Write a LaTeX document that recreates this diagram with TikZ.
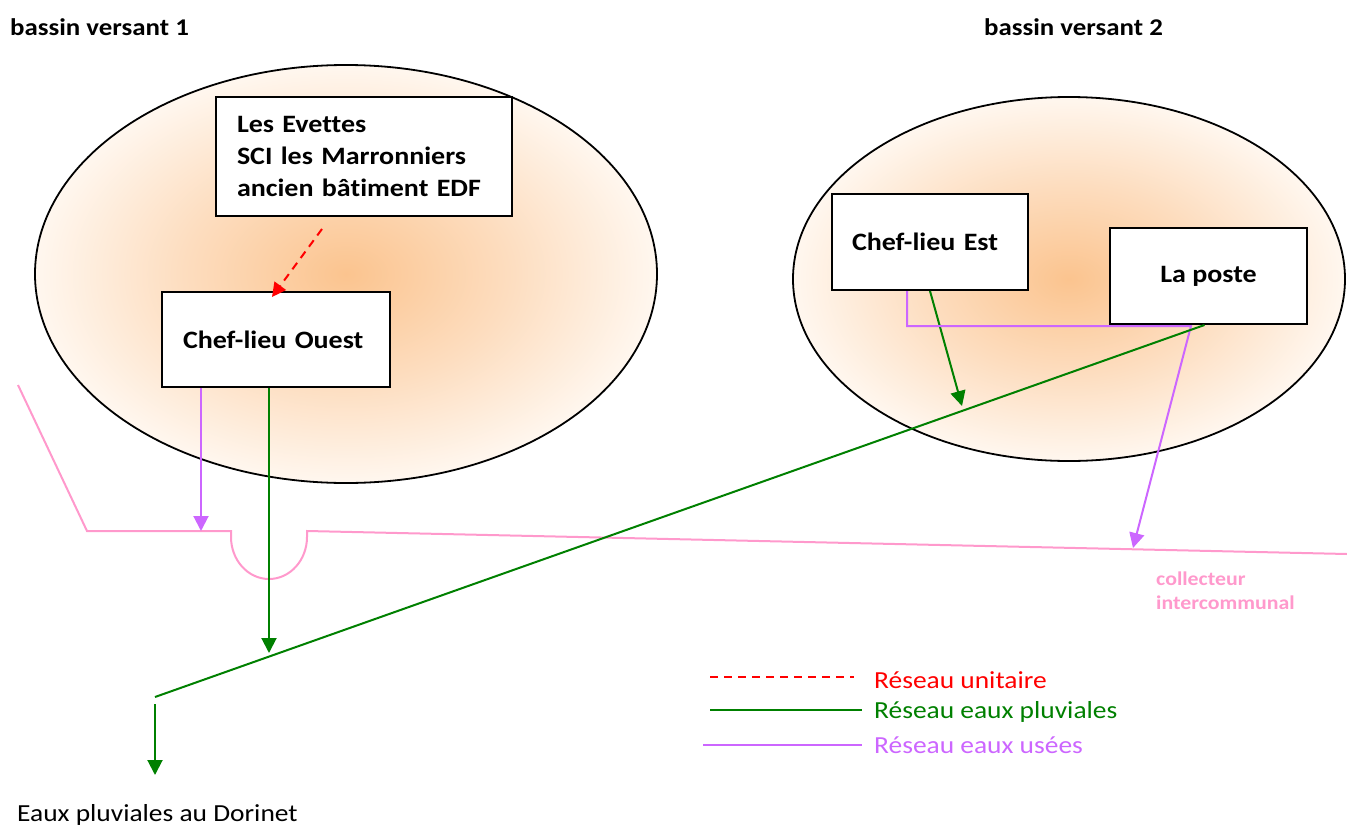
\documentclass[tikz,border=0pt]{standalone}
\usepackage{fontspec}
\setmainfont{Carlito}[FakeStretch=1.12, Ligatures=NoCommon]
\usetikzlibrary{arrows.meta,shapes.geometric}
\definecolor{pinkc}{HTML}{FF99CC}
\definecolor{purplec}{HTML}{CC66FF}
\definecolor{greenc}{HTML}{008000}
\definecolor{redc}{HTML}{FF0000}
\definecolor{orangec}{HTML}{FBC48F}
\definecolor{orangemid}{HTML}{FDDDBF}
\definecolor{palec}{HTML}{FFF7EF}
\pgfdeclareradialshading{bshade}{\pgfpoint{0bp}{0bp}}{color(0bp)=(orangec); color(13bp)=(orangemid); color(25bp)=(palec); color(50bp)=(palec)}
\tikzset{
  basin/.style={ellipse, draw=black, line width=1.8pt, shading=bshade, inner sep=0pt},
  box/.style={rectangle, draw=black, line width=2pt, fill=white, inner ysep=0pt, inner xsep=0pt, align=left, font=\fontsize{25}{32}\selectfont\bfseries},
  title/.style={font=\fontsize{24}{28}\selectfont\bfseries, anchor=west, inner sep=0pt},
  legtext/.style={font=\fontsize{24.5}{28}\selectfont, anchor=west, inner sep=0pt},
  tipg/.style={-{Triangle[width=15pt,length=15pt]}},
  pur/.style={draw=purplec, line width=2pt},
  grn/.style={draw=greenc, line width=2pt},
  uni/.style={draw=redc, line width=2pt, dash pattern=on 8pt off 6pt},
  coll/.style={draw=pinkc, line width=2pt},
}
\begin{document}
\begin{tikzpicture}[x=1pt,y=-1pt]
\useasboundingbox (0,0) rectangle (1347,827);

% titles
\node[title] (t1) at (10,27) {bassin versant 1};
\node[title] (t2) at (984,27) {bassin versant 2};

% basins
\node[basin, minimum width=622pt, minimum height=418pt] (bv1) at (346,274) {};
\node[basin, minimum width=552pt, minimum height=364pt] (bv2) at (1069,279) {};

% boxes
\node[box, minimum width=296pt, minimum height=119pt, text width=254pt] (evettes) at (364,156.5)
  {Les Evettes\\SCI les Marronniers\\ancien bâtiment EDF};
\node[box, minimum width=228pt, minimum height=95pt, text width=186pt] (ouest) at (276,339.5)
  {Chef-lieu Ouest};
\node[box, minimum width=196pt, minimum height=96pt, text width=156pt] (est) at (930,242)
  {Chef-lieu Est};
\node[box, minimum width=197pt, minimum height=96pt, align=center] (poste) at (1208.5,276)
  {La poste};

% collecteur intercommunal
\coordinate (k0) at (18,385);
\coordinate (k1) at (87,531);
\coordinate (k2) at (231,531);
\coordinate (k3) at (307,531);
\coordinate (k4) at (1347,554);
\coordinate (c1) at (201,531);
\coordinate (c2) at (1133,548);
\draw[coll] (k0) -- (k1) -- (k2) -- ++(0,6) arc[start angle=180, end angle=0, x radius=38, y radius=42] -- (k3) -- (k4);
\node[font=\fontsize{19.5}{24}\selectfont\bfseries, text=pinkc, align=left, anchor=north west, inner sep=0pt] (colltxt) at (1156,572)
  {collecteur\\intercommunal};

% red unitary
\draw[uni, -{Triangle[width=14pt,length=14pt]}] ([shift={(-42,12)}]evettes.south) -- ([shift={(-4,6)}]ouest.north);

% Ouest networks
\draw[pur, tipg] (c1 |- ouest.south) -- (c1);
\coordinate (g1) at (269,653);
\draw[grn, tipg] (g1 |- ouest.south) -- (g1);

% Est networks
\coordinate (g2) at (962,406);
\draw[grn, tipg] (est.south) -- (g2);
\coordinate (pj) at (1191,326);
\draw[pur, tipg] ([xshift=-23]est.south) -- ([xshift=-23]est.south |- pj) -- (pj) -- (c2);

% main storm line
\coordinate (p1) at (155,697);
\coordinate (p2) at (155,775);
\draw[grn] ([xshift=-4]poste.south) -- (p1);
\node[legtext] (dorinet) at (17,815) {Eaux pluviales au Dorinet};
\draw[grn, tipg] ([yshift=-7]p1) -- (p2);

% legend
\node[legtext, text=redc] (l1) at (874,680) {Réseau unitaire};
\node[legtext, text=greenc] (l2) at (874,712) {Réseau eaux pluviales};
\node[legtext, text=purplec] (l3) at (874,745) {Réseau eaux usées};
\coordinate (a1) at (710,677);
\coordinate (a2) at (710,710);
\coordinate (a3) at (703,745);
\draw[uni] (a1) -- (854,677);
\draw[grn] (a2) -- (862,710);
\draw[pur] (a3) -- (862,745);
\end{tikzpicture}
\end{document}
